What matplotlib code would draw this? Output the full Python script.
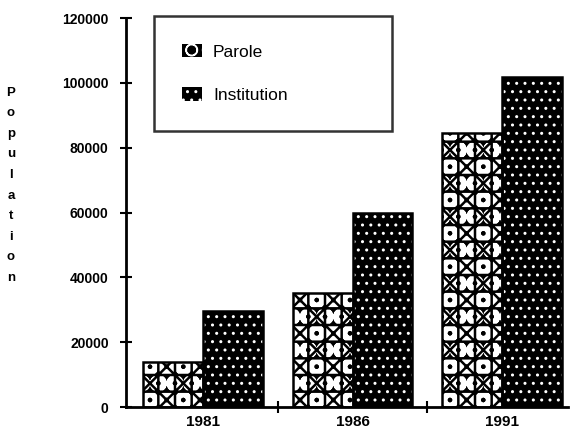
import matplotlib
matplotlib.use("Agg")
import matplotlib.pyplot as plt
import numpy as np

years = ["1981", "1986", "1991"]
parole = [13900, 35300, 84500]
institution = [29500, 60000, 101800]
series_names = ["Parole", "Institution"]

plt.rcParams['font.family'] = ['Liberation Sans', 'DejaVu Sans']

fig = plt.figure(figsize=(5.73, 4.34), dpi=100)
ax = fig.add_axes([0.22, 0.0622, 0.771, 0.8963])

x = np.arange(len(years))
w = 0.40

# parole: white rings on black, cut by a black lattice laid on top
with plt.rc_context({'hatch.linewidth': 4.0}):
    p1 = ax.bar(x - w / 2, parole, w, color="black", edgecolor="white",
                hatch="O", linewidth=0, label=series_names[0])
with plt.rc_context({'hatch.linewidth': 1.8}):
    ax.bar(x - w / 2, parole, w, fill=False, edgecolor="black",
           hatch="x+", linewidth=0)
# institution: white dots on black
with plt.rc_context({'hatch.linewidth': 1.0}):
    p2 = ax.bar(x + w / 2, institution, w, color="black", edgecolor="white",
                hatch="..", linewidth=0, label=series_names[1])
ax.bar(x - w / 2, parole, w, fill=False, edgecolor="black", linewidth=1.8)
ax.bar(x + w / 2, institution, w, fill=False, edgecolor="black", linewidth=1.8)

ax.set_xlim(-0.515, 2.44)
ax.set_ylim(0, 120000)
ax.set_yticks(np.arange(0, 120001, 20000))
ax.set_xticks(x)
ax.set_xticklabels(years)
ax.set_xticks([0.5, 1.5], minor=True)

for s in ["top", "right"]:
    ax.spines[s].set_visible(False)
ax.spines["left"].set_linewidth(2)
ax.spines["bottom"].set_linewidth(2)

ax.tick_params(axis="y", direction="inout", length=9, width=1.5,
               labelsize=10, pad=8)
ax.tick_params(axis="x", which="major", length=0, labelsize=11, pad=6)
ax.tick_params(axis="x", which="minor", direction="inout", length=9, width=1.5)
for lab in ax.get_yticklabels() + ax.get_xticklabels():
    lab.set_fontweight("bold")

leg = ax.legend(handles=[p1, p2], loc="upper left",
                bbox_to_anchor=(0.063, 0.707, 0.539, 0.298), mode="expand",
                fontsize=12.5, borderpad=1.6, labelspacing=1.6,
                handlelength=1.15, handleheight=0.8, handletextpad=0.65,
                fancybox=False, frameon=True, borderaxespad=0)
leg.get_frame().set_edgecolor("black")
leg.get_frame().set_linewidth(1.8)

fig.text(0.019, 0.80, "\n".join("Population"), ha="center", va="top",
         fontsize=9.5, fontweight="bold", linespacing=1.95)

fig.savefig("out.png", dpi=100)
